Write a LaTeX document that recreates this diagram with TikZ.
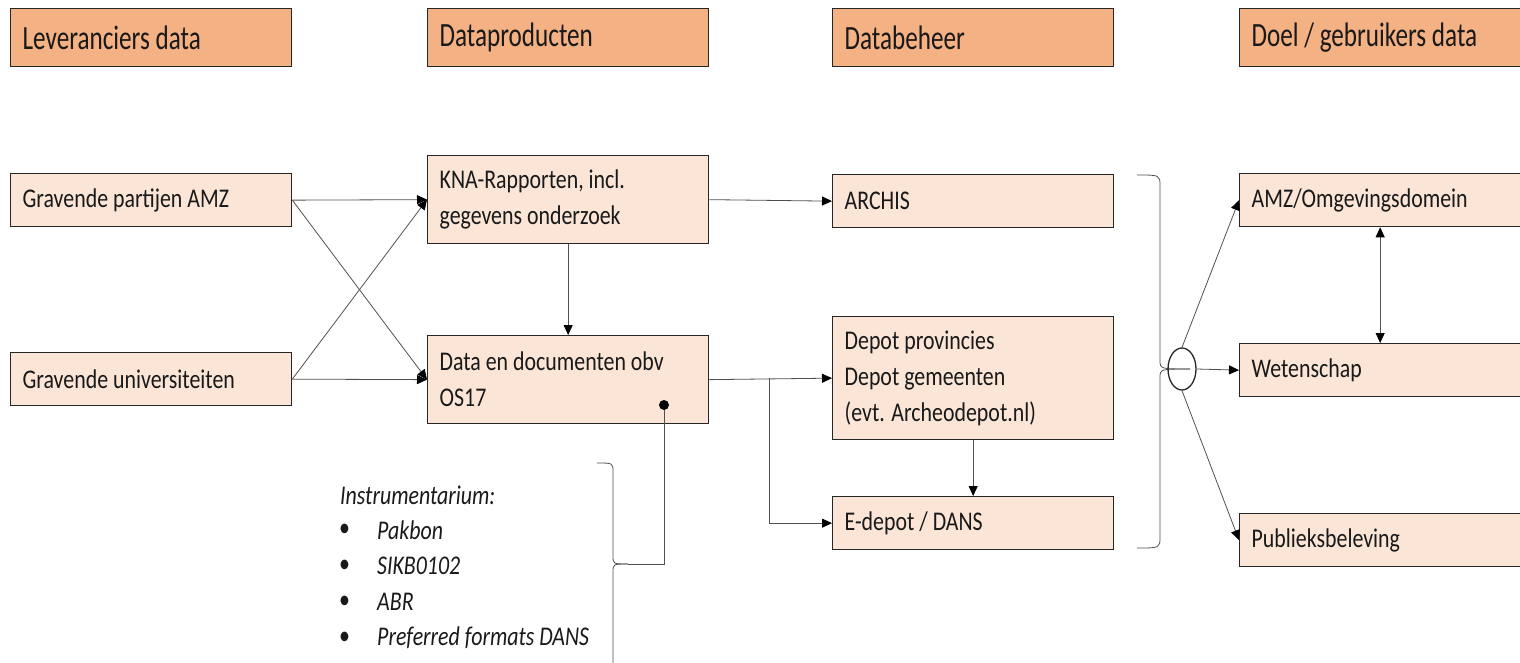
\documentclass[tikz,border=0pt]{standalone}
\usepackage{fontspec}
\setmainfont{Carlito}[FakeStretch=0.81]
\newfontfamily\headfont{Carlito}[FakeStretch=0.74]
\usetikzlibrary{arrows.meta,shapes.geometric}

\definecolor{headfill}{HTML}{F4B183}
\definecolor{boxfill}{HTML}{FBE5D6}
\definecolor{linegray}{HTML}{505050}

\tikzset{
  headbox/.style={draw=black!85, line width=1.3pt, fill=headfill, anchor=north west,
    minimum width=281pt, minimum height=58pt, inner xsep=12pt, text width=257pt,
    align=flush left, text=black!90, font=\headfont\fontsize{34}{40}\selectfont},
  databox/.style={draw=black!85, line width=1.3pt, fill=boxfill, anchor=north west,
    minimum width=281pt, minimum height=53pt, inner xsep=12pt, text width=257pt,
    align=flush left, text=black!90, font=\fontsize{27}{36}\selectfont},
  instrtext/.style={anchor=west, inner sep=0pt, text=black!90, font=\itshape\fontsize{27}{36}\selectfont},
  conn/.style={draw=linegray, line width=0.8pt, -{Triangle[length=10pt,width=9pt,color=black]}},
  plain/.style={draw=linegray, line width=0.8pt},
  hub/.style={ellipse, draw=black!85, line width=1.3pt, minimum width=28pt, minimum height=42pt, inner sep=0pt},
  pin/.style={circle, fill=black, minimum size=10pt, inner sep=0pt}
}

\begin{document}
\begin{tikzpicture}[x=1pt,y=-1pt]
\useasboundingbox (0,0) rectangle (1520,663);

% kolomkoppen
\node[headbox] (hlev) at (10,8) {Leveranciers data};
\node[headbox] (hprod) at (427,8) {Dataproducten};
\node[headbox] (hbeh) at (832,8) {Databeheer};
\node[headbox] (hdoel) at (1239,8) {Doel / gebruikers data};

% leveranciers
\node[databox] (gpa) at (10,173) {Gravende partijen AMZ};
\node[databox] (guni) at (10,352) {Gravende universiteiten};

% dataproducten
\node[databox, minimum height=88pt] (kna) at (427,155) {KNA-Rapporten, incl.\\gegevens onderzoek};
\node[databox, minimum height=88pt] (docs) at (427,335) {Data en documenten obv\\OS17};

% databeheer
\node[databox] (archis) at (832,174) {ARCHIS};
\node[databox, minimum height=123pt] (depot) at (832,316) {Depot provincies\\Depot gemeenten\\(evt. Archeodepot.nl)};
\node[databox] (edepot) at (832,496) {E-depot / DANS};

% doel
\node[databox] (amz) at (1239,173) {AMZ/Omgevingsdomein};
\node[databox] (wet) at (1239,343) {Wetenschap};
\node[databox] (publiek) at (1239,513) {Publieksbeleving};

% instrumentarium
\node[instrtext] (instr) at (340,495) {Instrumentarium:};
\node[instrtext, font=\fontsize{27}{36}\selectfont] (b1) at (339,530) {\textbullet};
\node[instrtext, font=\fontsize{27}{36}\selectfont] (b2) at (339,566) {\textbullet};
\node[instrtext, font=\fontsize{27}{36}\selectfont] (b3) at (339,602) {\textbullet};
\node[instrtext, font=\fontsize{27}{36}\selectfont] (b4) at (339,638) {\textbullet};
\node[instrtext] (pakbon) at (377,530) {Pakbon};
\node[instrtext] (sikb) at (377,566) {SIKB0102};
\node[instrtext] (abr) at (377,602) {ABR};
\node[instrtext] (pref) at (377,638) {Preferred formats DANS};

% kruisende pijlen
\draw[conn] (gpa.east) -- (kna.west);
\draw[conn] (gpa.east) -- (docs.west);
\draw[conn] (guni.east) -- (kna.west);
\draw[conn] (guni.east) -- (docs.west);
\draw[conn] (kna.south) -- (docs.north);

% naar databeheer
\draw[conn] (kna.east) -- (archis.west);
\draw[conn] (docs.east) -- (depot.west);
\coordinate (split) at (769,378);
\draw[conn] (split) |- (edepot.west);
\draw[conn] (depot.south) -- (edepot.north);

% accolade instrumentarium
\node[pin] (dot) at (664,405) {};
\coordinate (instrtip) at (628,564);
\draw[plain] (dot) |- (instrtip);
\draw[plain] (597,463) .. controls (613,463) .. (613,472) -- (613,556) .. controls (613,564) .. (628,564);
\draw[plain] (628,564) .. controls (613,564) .. (613,572) -- (613,670);

% accolade databeheer
\draw[plain] (1137,175) .. controls (1160,175) .. (1160,186) -- (1160,360) .. controls (1160,369) .. (1190,369);
\draw[plain] (1190,369) .. controls (1160,369) .. (1160,378) -- (1160,537) .. controls (1160,548) .. (1137,548);
\node[hub] (hub) at (1182,369) {};

% naar doel
\draw[conn] (hub.north) -- (amz.west);
\draw[conn] (hub.east) -- (wet.west);
\draw[conn] (hub.south) -- (publiek.west);
\draw[conn, {Triangle[length=10pt,width=9pt,color=black]}-{Triangle[length=10pt,width=9pt,color=black]}] (amz.south) -- (wet.north);
\end{tikzpicture}
\end{document}
